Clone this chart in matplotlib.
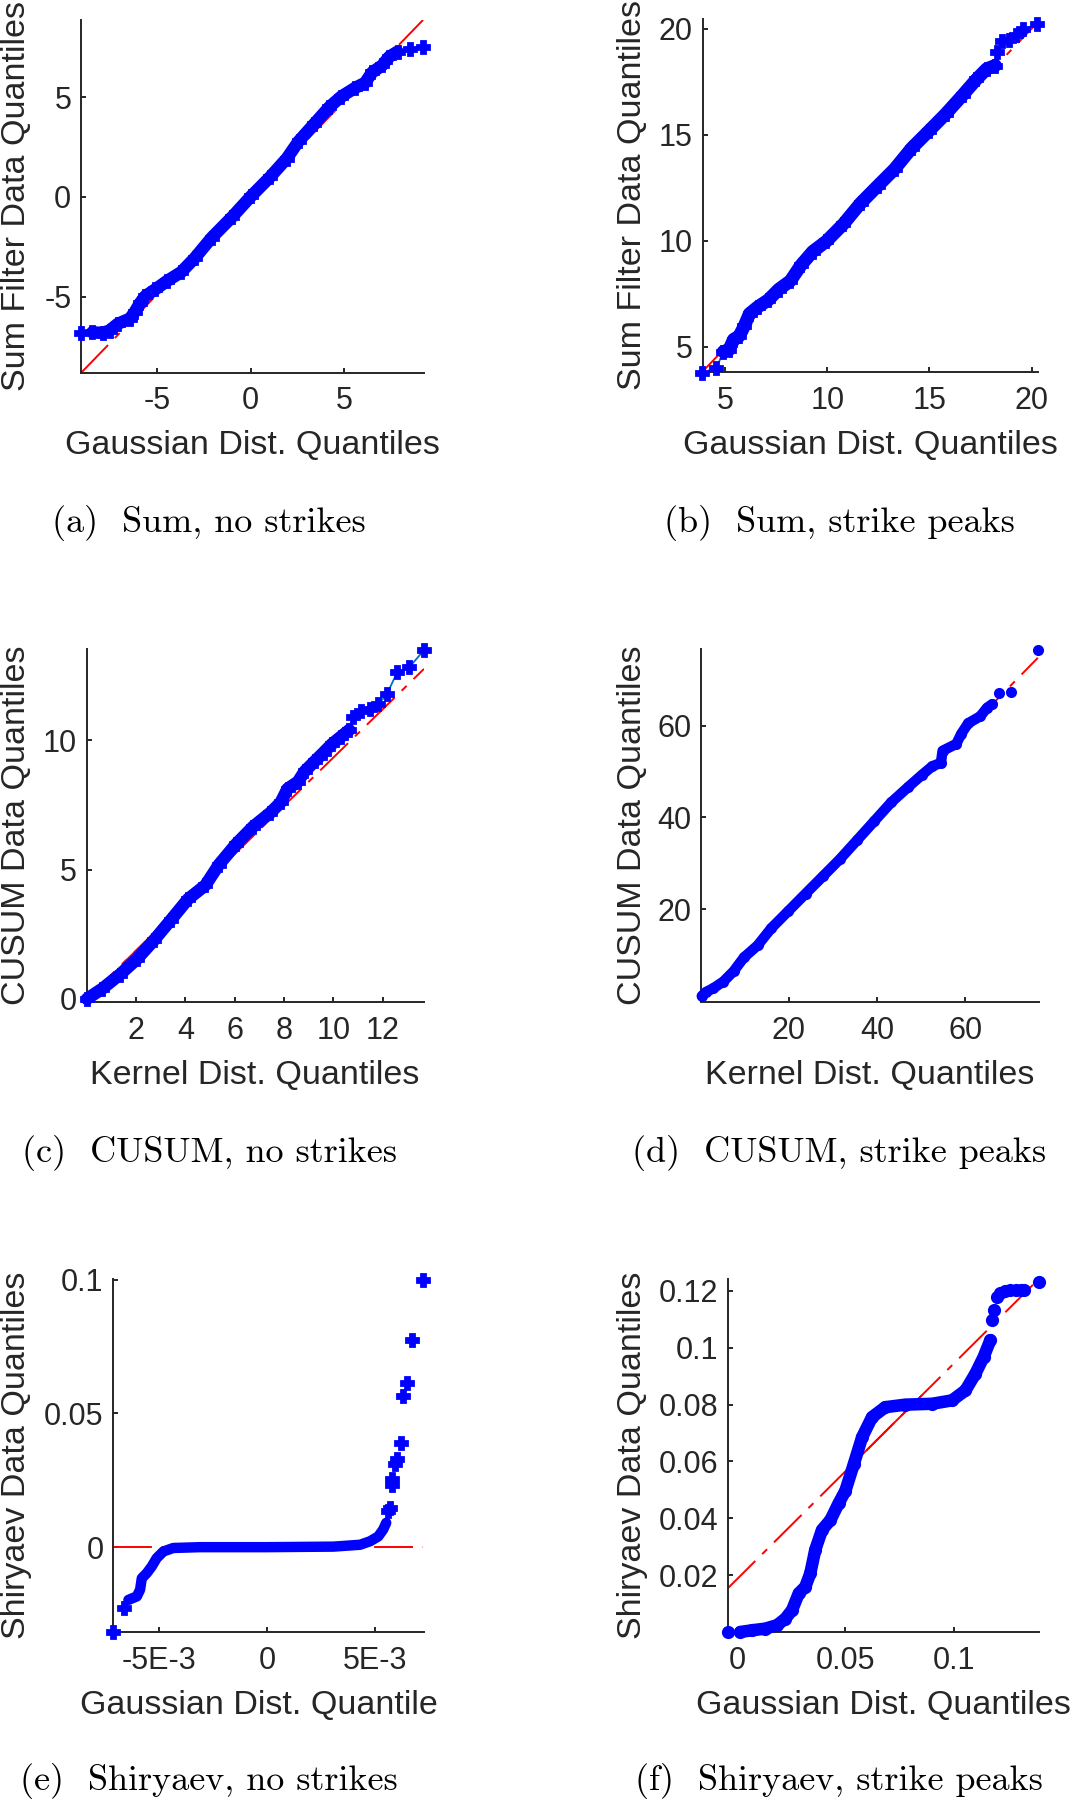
import numpy as np
import matplotlib
matplotlib.use("Agg")
import matplotlib.pyplot as plt

plt.rcParams['lines.scale_dashes'] = False

# ---------------- data ----------------
# (a) Sum, no strikes
a_body_x = [-8.45, -7.9, -7.53, -7.08, -6.44, -6.17, -5.9, -5.62, -5.08, -4.44, -3.71, -2.99,
            -2.08, -0.99, 0.01, 1.01, 1.92, 2.56, 3.38, 4.2, 4.83, 5.56, 6.1, 6.47, 7.01, 7.38, 7.83]
a_body_y = [-6.79, -6.82, -6.7, -6.36, -6.1, -5.75, -5.32, -4.97, -4.63, -4.2, -3.77, -3.07,
            -2.04, -1.0, 0.03, 0.98, 1.93, 2.8, 3.66, 4.52, 5.04, 5.47, 5.73, 6.25, 6.6, 7.03, 7.29]
a_tail_x = [-9.05, 8.47, 9.19]
a_tail_y = [-6.84, 7.41, 7.51]
a_fit = (0.971, -0.04)
a_quart = (-2.1, 2.1)
a_xticks = [-5, 0, 5]
a_xticklabels = ['-5', '0', '5']
a_yticks = [-5, 0, 5]
a_yticklabels = ['-5', '0', '5']

# (b) Sum, strike peaks
b_body_x = [4.92, 5.2, 5.42, 5.7, 5.95, 6.2, 6.62, 7.12, 7.62, 8.2, 8.71, 9.29, 9.96, 10.79,
            11.63, 12.46, 13.3, 14.13, 14.97, 15.8, 16.64, 17.3, 17.8, 18.22]
b_body_y = [4.76, 4.85, 5.33, 5.5, 5.98, 6.55, 6.88, 7.2, 7.69, 8.1, 8.83, 9.48, 9.97, 10.78,
            11.76, 12.57, 13.38, 14.36, 15.17, 15.98, 16.88, 17.61, 18.1, 18.26]
b_tail_x = [3.86, 4.58, 18.3, 18.56, 18.89, 19.22, 19.56, 20.28]
b_tail_y = [3.76, 3.99, 18.91, 19.4, 19.48, 19.72, 19.97, 20.21]
b_fit = (1.005, -0.1)
b_quart = (9.5, 14.5)
b_xticks = [5, 10, 15, 20]
b_xticklabels = ['5', '10', '15', '20']
b_yticks = [5, 10, 15, 20]
b_yticklabels = ['5', '10', '15', '20']

# (c) CUSUM, no strikes
c_body_x = [0.01, 0.64, 1.33, 2.03, 2.72, 3.42, 4.11, 4.81, 5.36, 6.06, 6.75, 7.44, 7.86,
            8.14, 8.56, 8.83, 9.25, 9.6, 9.94, 10.29, 10.64]
c_body_y = [0.0, 0.4, 0.93, 1.53, 2.26, 3.06, 3.86, 4.39, 5.19, 5.99, 6.66, 7.19, 7.59,
            8.12, 8.39, 8.79, 9.19, 9.52, 9.85, 10.12, 10.39]
c_tail_x = [10.78, 11.13, 11.47, 11.82, 12.17, 12.58, 13.07, 13.67]
c_tail_y = [10.89, 11.12, 11.19, 11.38, 11.78, 12.62, 12.81, 13.48]
c_fit = (0.933, 0.0)
c_quart = (1.5, 5.0)
c_xticks = [2, 4, 6, 8, 10, 12]
c_xticklabels = ['2', '4', '6', '8', '10', '12']
c_yticks = [0, 5, 10]
c_yticklabels = ['0', '5', '10']

# (d) CUSUM, strike peaks
d_body_x = [0.27, 1.28, 2.83, 5.17, 7.5, 9.83, 12.93, 16.04, 19.92, 23.8, 27.69, 31.57, 35.46,
            39.34, 43.22, 47.1, 50.21, 52.54, 54.49, 54.87, 57.98, 59.15, 60.7, 63.42, 64.97, 66.14]
d_body_y = [1.1, 2.0, 2.75, 4.25, 6.5, 9.5, 12.12, 15.87, 19.62, 23.38, 27.13, 30.88, 35.0,
            39.13, 43.26, 46.63, 49.26, 51.13, 51.88, 54.5, 56.0, 58.26, 60.51, 62.01, 63.89, 64.64]
d_tail_x = [67.69, 70.41, 76.47]
d_tail_y = [67.11, 67.26, 76.41]
d_fit = (0.98, -0.2)
d_quart = (15.0, 40.0)
d_xticks = [20, 40, 60]
d_xticklabels = ['20', '40', '60']
d_yticks = [20, 40, 60]
d_yticklabels = ['20', '40', '60']

# (e) Shiryaev, no strikes
e_body_x = [-6.42e-3, -6.03e-3, -5.88e-3, -5.8e-3, -5.57e-3, -5.34e-3, -5.11e-3, -4.8e-3,
            -4.34e-3, -3.1e-3, 0.0, 3.07e-3, 4.31e-3, 4.77e-3, 5.15e-3, 5.38e-3, 5.52e-3]
e_body_y = [-0.0197, -0.0184, -0.0159, -0.0116, -0.0097, -0.0072, -0.0041, -0.0016,
            -0.0003, 0.0, 0.0, 0.0002, 0.0009, 0.0022, 0.0040, 0.0066, 0.0091]
e_tail_x = [-7.12e-3, -6.62e-3, 5.6e-3, 5.71e-3, 5.78e-3, 5.8e-3, 5.93e-3, 6.0e-3, 6.19e-3,
            6.31e-3, 6.47e-3, 6.73e-3, 7.21e-3]
e_tail_y = [-0.0317, -0.0228, 0.0134, 0.0148, 0.0234, 0.0253, 0.0309, 0.0328, 0.0391,
            0.0566, 0.0614, 0.0774, 0.1]
e_fit = (0.0, 0.0)
e_quart = (-1.3e-3, 1.3e-3)
e_xticks = [-5e-3, 0, 5e-3]
e_xticklabels = ['-5E-3', '0', '5E-3']
e_yticks = [0, 0.05, 0.1]
e_yticklabels = ['0', '0.05', '0.1']

# (f) Shiryaev, strike peaks
f_body_x = [0.0015, 0.0069, 0.0131, 0.0185, 0.0223, 0.0254, 0.0285, 0.0315, 0.0338, 0.0361,
            0.0392, 0.0431, 0.0469, 0.05, 0.0539, 0.0577, 0.0623, 0.0684, 0.0777, 0.09,
            0.0992, 0.1054, 0.11, 0.1138, 0.1169]
f_body_y = [0.0, 0.0006, 0.0012, 0.0024, 0.0047, 0.0077, 0.0136, 0.0159, 0.0206, 0.0289,
            0.0359, 0.0394, 0.0453, 0.0497, 0.0591, 0.0685, 0.0756, 0.0791, 0.08, 0.0803,
            0.0815, 0.085, 0.0909, 0.0968, 0.1027]
f_tail_x = [-0.0043, 0.1177, 0.1185, 0.12, 0.1215, 0.1238, 0.126, 0.1285, 0.131, 0.1323, 0.1392]
f_tail_y = [0.0, 0.1098, 0.1133, 0.118, 0.1193, 0.1201, 0.1202, 0.1202, 0.1203, 0.1204, 0.1231]
f_fit = (0.7585, 0.0186)
f_quart = (0.052, 0.085)
f_xticks = [0, 0.05, 0.1]
f_xticklabels = ['0', '0.05', '0.1']
f_yticks = [0.02, 0.04, 0.06, 0.08, 0.1, 0.12]
f_yticklabels = ['0.02', '0.04', '0.06', '0.08', '0.1', '0.12']

# ---------------- layout / style ----------------
W, H = 1072, 1800
fig = plt.figure(figsize=(W / 100, H / 100), dpi=100)
SANS = ['Liberation Sans', 'DejaVu Sans']
TXT = '#262626'
TICK_FS = 22
LABEL_FS = 24.5
CAP_FS = 26


def px_x(x):
    return x / W


def px_y(y):
    return 1 - y / H


panels = [
    dict(box=(81, 20, 424, 372.6), xlim=(-9.05, 9.24), ylim=(-8.81, 8.88),
         body=(a_body_x, a_body_y), tail=(a_tail_x, a_tail_y), fit=a_fit, quart=a_quart,
         xt=(a_xticks, a_xticklabels), yt=(a_yticks, a_yticklabels),
         marker='P', ms=8.5, mew=2, blw=9, connect=True, body_marks=True,
         xlabel='Gaussian Dist. Quantiles', ylabel='Sum Filter Data Quantiles',
         caption='(a)  Sum, no strikes', xl_cx=252.5, yl_bx=25.5, cap_cx=208.5, row=0),
    dict(box=(702.5, 18.9, 1038.4, 372), xlim=(3.9, 20.33), ylim=(3.8, 20.46),
         body=(b_body_x, b_body_y), tail=(b_tail_x, b_tail_y), fit=b_fit, quart=b_quart,
         xt=(b_xticks, b_xticklabels), yt=(b_yticks, b_yticklabels),
         marker='P', ms=8.5, mew=2, blw=9.5, connect=True, body_marks=True,
         xlabel='Gaussian Dist. Quantiles', ylabel='Sum Filter Data Quantiles',
         caption='(b)  Sum, strike peaks', xl_cx=870, yl_bx=641, cap_cx=839, row=0),
    dict(box=(86.7, 649.3, 424, 1002), xlim=(0.0, 13.67), ylim=(-0.12, 13.51),
         body=(c_body_x, c_body_y), tail=(c_tail_x, c_tail_y), fit=c_fit, quart=c_quart,
         xt=(c_xticks, c_xticklabels), yt=(c_yticks, c_yticklabels),
         marker='P', ms=8.5, mew=2, blw=9, connect=True, body_marks=True,
         xlabel='Kernel Dist. Quantiles', ylabel='CUSUM Data Quantiles',
         caption='(c)  CUSUM, no strikes', xl_cx=255, yl_bx=25.5, cap_cx=209, row=1),
    dict(box=(701, 649.3, 1039.3, 1002), xlim=(0.1, 76.8), ylim=(-0.2, 76.6),
         body=(d_body_x, d_body_y), tail=(d_tail_x, d_tail_y), fit=d_fit, quart=d_quart,
         xt=(d_xticks, d_xticklabels), yt=(d_yticks, d_yticklabels),
         marker='o', ms=8, mew=0, blw=7.5, connect=False, body_marks=True,
         xlabel='Kernel Dist. Quantiles', ylabel='CUSUM Data Quantiles',
         caption='(d)  CUSUM, strike peaks', xl_cx=870, yl_bx=641, cap_cx=839, row=1),
    dict(box=(113.3, 1279.3, 424, 1632), xlim=(-7.12e-3, 7.27e-3), ylim=(-0.0317, 0.1001),
         body=(e_body_x, e_body_y), tail=(e_tail_x, e_tail_y), fit=e_fit, quart=e_quart,
         xt=(e_xticks, e_xticklabels), yt=(e_yticks, e_yticklabels),
         marker='P', ms=8.5, mew=2, blw=7.5, connect=False, body_marks=False,
         xlabel='Gaussian Dist. Quantile', ylabel='Shiryaev Data Quantiles',
         caption='(e)  Shiryaev, no strikes', xl_cx=258.7, yl_bx=25.5, cap_cx=208.5, row=2),
    dict(box=(727.7, 1279.3, 1038.7, 1632), xlim=(-0.0043, 0.1392), ylim=(0.0, 0.1241),
         body=(f_body_x, f_body_y), tail=(f_tail_x, f_tail_y), fit=f_fit, quart=f_quart,
         xt=(f_xticks, f_xticklabels), yt=(f_yticks, f_yticklabels),
         marker='o', ms=9.5, mew=0, blw=9, connect=False, body_marks=True,
         xlabel='Gaussian Dist. Quantiles', ylabel='Shiryaev Data Quantiles',
         caption='(f)  Shiryaev, strike peaks', xl_cx=883, yl_bx=641, cap_cx=839, row=2),
]

XL_BASE = [454, 1084, 1714]
CAP_BASE = [532, 1162, 1790]

for p in panels:
    l, t, r, b = p['box']
    ax = fig.add_axes([l / W, 1 - b / H, (r - l) / W, (b - t) / H])
    ax.set_xlim(*p['xlim'])
    ax.set_ylim(*p['ylim'])
    for s in ('top', 'right'):
        ax.spines[s].set_visible(False)
    for s in ('left', 'bottom'):
        ax.spines[s].set_color(TXT)
        ax.spines[s].set_linewidth(1.4)
    ax.tick_params(direction='in', length=3.6, width=1.4, color=TXT)
    ax.tick_params(axis='x', pad=10)
    ax.tick_params(axis='y', pad=7)
    ax.set_xticks(p['xt'][0])
    ax.set_xticklabels(p['xt'][1], fontsize=TICK_FS, family=SANS, color=TXT)
    ax.set_yticks(p['yt'][0])
    ax.set_yticklabels(p['yt'][1], fontsize=TICK_FS, family=SANS, color=TXT)

    bx, by = np.asarray(p['body'][0]), np.asarray(p['body'][1])
    tx, ty = np.asarray(p['tail'][0]), np.asarray(p['tail'][1])
    allx = np.concatenate([bx, tx])
    ally = np.concatenate([by, ty])
    order = np.argsort(allx, kind='stable')
    slope, icpt = p['fit']
    ext = np.array([allx.min(), allx.max()])
    ax.plot(ext, slope * ext + icpt, color='red', lw=1.4, dashes=(28, 7, 5, 7), zorder=2)
    qq = np.asarray(p['quart'])
    ax.plot(qq, slope * qq + icpt, color='red', lw=1.4, zorder=2.1)
    if p['connect']:
        ax.plot(allx[order], ally[order], color='#0072BD', lw=1.3, zorder=2.5, clip_on=False)
    ax.plot(bx, by, color='blue', lw=p['blw'], solid_capstyle='round',
            solid_joinstyle='round', zorder=3, clip_on=False)
    mx, my = (allx, ally) if p['body_marks'] else (tx, ty)
    ax.plot(mx, my, ls='none', marker=p['marker'], ms=p['ms'], mfc='blue', mec='blue',
            mew=p['mew'], zorder=4, clip_on=False)

    row = p['row']
    fig.text(px_x(p['xl_cx']), px_y(XL_BASE[row]), p['xlabel'], ha='center', va='baseline',
             fontsize=LABEL_FS, family=SANS, color=TXT)
    fig.text(px_x(p['yl_bx']), px_y((t + b) / 2), p['ylabel'], ha='center', va='baseline',
             rotation=90, rotation_mode='anchor', fontsize=LABEL_FS, family=SANS, color=TXT)
    fig.text(px_x(p['cap_cx']), px_y(CAP_BASE[row]), p['caption'], ha='center', va='baseline',
             fontsize=CAP_FS, family=['cmr10', 'DejaVu Serif'], color='black')

fig.savefig('out.png', dpi=100, facecolor='white')
